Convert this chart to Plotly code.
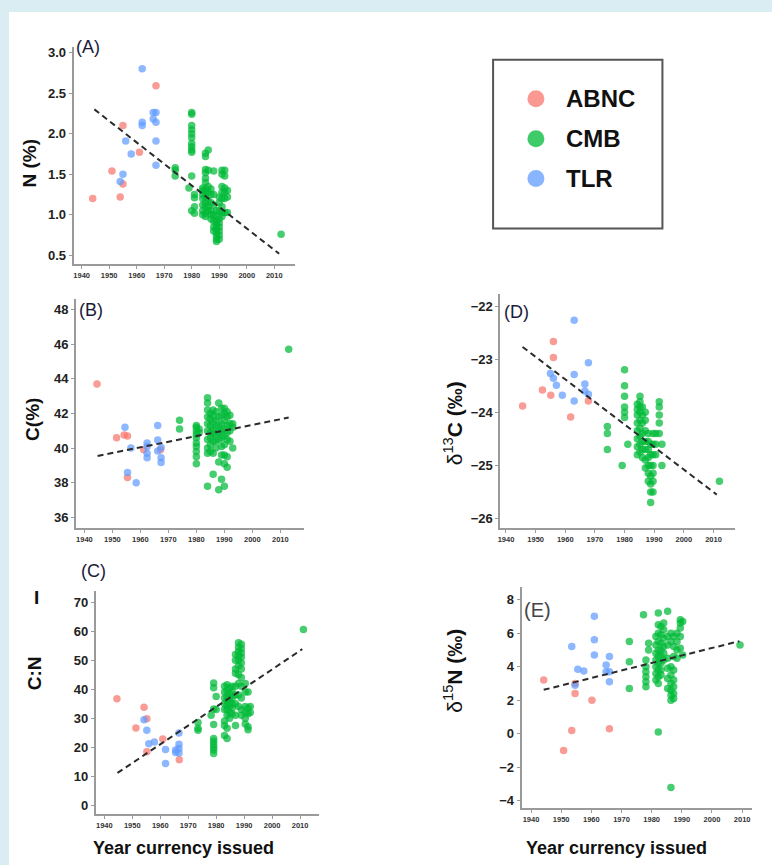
import plotly.graph_objects as go

W, H = 772, 865

# ---------------- data ----------------
groups = ["ABNC", "CMB", "TLR"]
colors = {"ABNC": "#F8766D", "CMB": "#00BA38", "TLR": "#619CFF"}
x_ticks = [1940, 1950, 1960, 1970, 1980, 1990, 2000, 2010]

# Panel A : N (%)
abnc_year_A = [1944, 1951, 1954, 1955, 1955, 1961, 1967]
abnc_N = [1.20, 1.54, 1.22, 1.38, 2.10, 1.77, 2.59]
tlr_year_A = [1954, 1955, 1956, 1958, 1962, 1962, 1962, 1966, 1967, 1966, 1967, 1967, 1967]
tlr_N = [1.41, 1.50, 1.91, 1.75, 2.80, 2.14, 2.10, 2.26, 2.26, 2.18, 2.14, 1.91, 1.61]
cmb_N = {
    1974: [1.58, 1.55, 1.48],
    1979: [1.33],
    1980: [2.26, 2.24, 2.10, 2.05, 2.00, 1.95, 1.88, 1.84, 1.80, 1.77, 1.48, 1.05],
    1981: [1.25, 1.21, 1.10, 1.02],
    1984: [1.33, 1.30, 1.25, 1.20, 1.12, 1.05, 1.00],
    1985: [1.76, 1.72, 1.56, 1.52, 1.45, 1.40, 1.32, 1.28, 1.22, 1.15, 1.10, 1.02, 0.98],
    1986: [1.80, 1.55, 1.35, 1.28, 1.18, 1.10, 1.05],
    1987: [1.32, 1.25, 1.15, 1.05, 1.00, 0.95],
    1988: [1.54, 1.25, 1.12, 1.00, 0.92, 0.85, 0.80],
    1989: [1.05, 0.98, 0.92, 0.88, 0.83, 0.78, 0.74, 0.70, 0.67],
    1990: [1.22, 1.15, 1.05, 0.95, 0.90, 0.85, 0.80, 0.75, 0.70],
    1991: [1.55, 1.50, 1.35, 1.28, 1.20, 1.10, 1.03, 0.98],
    1992: [1.55, 1.48, 1.33, 1.28, 1.20, 1.03],
    1993: [1.30, 1.22, 1.03],
    2012.5: [0.76],
}
trend_year_A = [1944.6, 2011.8]
trend_N = [2.30, 0.52]

# Panel B : C (%)
abnc_year_B = [1944.5, 1951.5, 1954.2, 1955.4, 1955.4, 1961.2, 1967.2]
abnc_C = [43.7, 40.6, 40.75, 40.7, 38.3, 39.9, 39.9]
tlr_year_B = [1954.5, 1955.4, 1956.6, 1958.5, 1962.4, 1962.4, 1962.4, 1962.4, 1966.2, 1966.2, 1966.2, 1967.4, 1967.4, 1967.4]
tlr_C = [41.2, 38.6, 40.0, 38.0, 40.3, 40.1, 39.7, 39.45, 41.3, 40.47, 39.84, 40.03, 39.45, 39.17]
cmb_C = {
    1974: [41.6, 41.1],
    1980: [41.3, 41.2, 41.0, 40.8, 40.6, 40.3, 40.1, 39.8, 39.5, 39.1],
    1981: [41.1, 40.9],
    1984: [42.9, 42.6, 42.2, 41.8, 41.4, 41.0, 40.5, 40.0, 39.7, 37.8],
    1985: [42.0, 41.7, 41.3, 40.9, 40.6, 40.2, 39.8],
    1986: [42.2, 41.9, 41.5, 41.1, 40.8, 40.4, 39.7, 38.5],
    1987: [42.1, 41.6, 41.2, 40.8, 40.4, 40.0],
    1988: [42.6, 41.8, 41.3, 40.9, 40.5, 39.2, 37.6],
    1989: [42.3, 41.9, 41.4, 41.0, 40.6, 40.1, 39.6, 38.2],
    1990: [42.3, 42.0, 41.6, 41.1, 40.7, 40.2, 39.6, 39.1, 37.8],
    1991: [42.1, 41.8, 41.3, 40.9, 40.5, 39.5, 38.9],
    1992: [41.9, 41.4, 41.0, 40.4],
    1993: [41.4, 41.2, 40.0],
    2013: [45.7],
}
trend_year_B = [1944.7, 2013.0]
trend_C = [39.55, 41.76]

# Panel C : C:N
abnc_year_CN = [1944.5, 1951.3, 1954.2, 1955.2, 1955.2, 1960.9, 1966.8]
abnc_CN = [36.7, 26.6, 33.8, 29.8, 18.4, 22.8, 15.7]
tlr_year_CN = [1954.2, 1955.2, 1955.9, 1957.9, 1961.9, 1961.9, 1965.5, 1965.5, 1966.7, 1966.7, 1966.7, 1966.7]
tlr_CN = [29.5, 25.8, 21.2, 21.8, 19.2, 14.4, 19.0, 18.2, 24.9, 21.0, 19.5, 18.0]
cmb_CN = {
    1973.5: [28.5, 26.5, 25.8],
    1978.2: [31.0],
    1979.1: [42.1, 40.5, 33.2, 27.8, 23.0, 22.0, 21.0, 20.0, 19.0, 17.8],
    1980.0: [37.5, 33.0],
    1983.0: [41.0, 39.0, 37.0, 35.0, 33.0, 29.0, 27.5, 24.0],
    1983.9: [41.5, 39.5, 37.5, 36.0, 34.5, 33.0, 31.0, 26.5, 23.0],
    1984.8: [40.5, 38.5, 37.0, 35.5, 34.0, 32.0, 30.0],
    1985.7: [41.0, 39.0, 37.0, 35.0, 33.5, 31.5],
    1986.9: [52.0, 50.0, 47.0, 45.5, 41.0, 38.0, 35.0, 31.0, 27.5],
    1988.0: [56.0, 54.5, 53.0, 51.5, 50.0, 48.0, 45.0, 42.0, 38.0, 34.0],
    1989.0: [55.5, 54.0, 52.5, 51.0, 49.0, 47.0, 44.0, 41.0, 37.0, 33.0, 31.0],
    1990.4: [42.0, 39.0, 34.0, 32.0, 30.0, 28.0],
    1991.4: [39.0, 33.5, 31.5, 27.0, 26.0],
    1992.2: [34.0, 32.0],
    2011.2: [60.6],
}
trend_year_CN = [1944.7, 2010.8]
trend_CN = [11.1, 53.8]

# Panel D : d13C
abnc_year_D = [1945.6, 1952.3, 1955.1, 1956.0, 1956.0, 1961.8, 1967.8]
abnc_d13C = [-23.88, -23.58, -23.68, -22.67, -22.97, -24.09, -23.79]
tlr_year_D = [1955.0, 1956.0, 1957.0, 1959.0, 1963.0, 1963.0, 1963.0, 1966.6, 1966.6, 1967.8, 1967.8]
tlr_d13C = [-23.27, -23.36, -23.49, -23.68, -22.27, -23.29, -23.79, -23.47, -23.60, -23.07, -23.66]
cmb_d13C = {
    1974.2: [-24.27, -24.40, -24.70],
    1979.2: [-25.00],
    1980.0: [-23.20, -23.50, -23.70, -23.90, -24.00, -24.10],
    1981.1: [-24.60],
    1984.3: [-23.85, -23.95, -24.05, -24.20, -24.35, -24.50, -24.65, -24.80],
    1985.2: [-23.70, -23.80, -23.90, -24.00, -24.15, -24.30, -24.45, -24.60, -24.75],
    1986.0: [-23.90, -24.05, -24.20, -24.40, -24.55, -24.70, -24.85],
    1987.0: [-24.00, -24.15, -24.35, -24.55, -24.70, -24.90, -25.05],
    1988.0: [-24.40, -24.55, -24.70, -24.85, -25.00, -25.15, -25.30],
    1988.8: [-24.60, -24.80, -25.00, -25.20, -25.35, -25.50, -25.70],
    1989.6: [-24.40, -24.60, -24.80, -25.00, -25.15, -25.30, -25.50],
    1990.5: [-24.40, -24.60, -24.80],
    1991.7: [-23.80, -23.90, -24.05, -24.20, -24.40],
    1992.6: [-24.60, -25.00],
    2012.0: [-25.30],
}
trend_year_D = [1945.6, 2011.1]
trend_d13C = [-22.77, -25.55]

# Panel E : d15N
abnc_year_E = [1944.2, 1950.8, 1953.5, 1954.6, 1954.6, 1960.2, 1966.0]
abnc_d15N = [3.2, -1.0, 0.2, 2.4, 3.0, 2.0, 0.3]
tlr_year_E = [1953.5, 1954.6, 1955.5, 1957.5, 1961.0, 1961.0, 1961.0, 1964.9, 1964.9, 1966.0, 1966.0, 1966.0]
tlr_d15N = [5.2, 2.9, 3.85, 3.75, 7.0, 5.6, 4.7, 4.1, 3.7, 4.6, 3.7, 3.1]
cmb_d15N = {
    1972.6: [5.5, 4.3, 2.7],
    1977.3: [7.1],
    1978.1: [4.4, 4.0, 3.7, 3.4, 3.1, 2.8],
    1979.0: [5.4, 5.0],
    1981.4: [5.8, 5.3, 4.8, 4.4, 4.0, 3.6, 3.2],
    1982.2: [7.2, 6.5, 6.0, 5.5, 5.0, 4.6, 4.2, 3.8, 3.4, 3.0, 0.1],
    1983.1: [6.4, 5.9, 5.4, 5.0, 4.6, 4.2, 3.8, 3.5],
    1984.0: [6.6, 6.2, 5.7, 5.2, 4.8, 4.4],
    1985.3: [7.3, 5.8, 5.3, 4.5, 3.9, 3.3, 2.7],
    1986.4: [6.0, 5.5, 4.0, 3.5, 3.0, 2.6, 2.3, 2.0, -3.2],
    1987.3: [5.8, 5.2, 4.6, 3.8, 3.2, 2.8, 2.4, 2.1],
    1988.4: [6.0, 5.5, 5.0, 4.5],
    1989.5: [6.8, 6.6, 6.3, 5.8, 5.1],
    1990.3: [6.7, 4.7],
    2009.3: [5.3],
}
trend_year_E = [1944.2, 2009.1]
trend_d15N = [2.62, 5.52]


def expand(d):
    xs, ys = [], []
    for yr, vals in d.items():
        for v in vals:
            xs.append(yr)
            ys.append(v)
    return xs, ys


panels = [
    dict(ab=(abnc_year_A, abnc_N), tl=(tlr_year_A, tlr_N), cm=cmb_N, tr=(trend_year_A, trend_N),
         xpx=(71, 293), ypx=(45, 262.7), xr=[1937.1, 2017.5], yr=[0.393, 3.07],
         yt=[0.5, 1.0, 1.5, 2.0, 2.5, 3.0], fmt=".1f"),
    dict(ab=(abnc_year_B, abnc_C), tl=(tlr_year_B, tlr_C), cm=cmb_C, tr=(trend_year_B, trend_C),
         xpx=(73.3, 301.7), ypx=(298, 527.3), xr=[1937.0, 2018.3], yr=[35.39, 48.58],
         yt=[36, 38, 40, 42, 44, 46, 48], fmt="d"),
    dict(ab=(abnc_year_CN, abnc_CN), tl=(tlr_year_CN, tlr_CN), cm=cmb_CN, tr=(trend_year_CN, trend_CN),
         xpx=(93.3, 317.3), ypx=(590, 814), xr=[1937.0, 2016.8], yr=[-3.1, 74.0],
         yt=[0, 10, 20, 30, 40, 50, 60, 70], fmt="d"),
    dict(ab=(abnc_year_D, abnc_d13C), tl=(tlr_year_D, tlr_d13C), cm=cmb_d13C, tr=(trend_year_D, trend_d13C),
         xpx=(499.3, 735), ypx=(293, 527.3), xr=[1938.1, 2017.3], yr=[-26.18, -21.78],
         yt=[-26, -25, -24, -23, -22], fmt="d"),
    dict(ab=(abnc_year_E, abnc_d15N), tl=(tlr_year_E, tlr_d15N), cm=cmb_d15N, tr=(trend_year_E, trend_d15N),
         xpx=(520.7, 752), ypx=(586.7, 808.3), xr=[1936.9, 2013.3], yr=[-4.45, 8.73],
         yt=[-4, -2, 0, 2, 4, 6, 8], fmt="d"),
]

FONT = "Liberation Sans, Arial, sans-serif"
fig = go.Figure()
layout = {}
AXC = "#9a9a9a"
MS = 7.5
OP = 0.72

for i, p in enumerate(panels, start=1):
    sfx = "" if i == 1 else str(i)
    xa, ya = "x" + sfx, "y" + sfx
    cx, cy = expand(p["cm"])
    for g, (xs, ys) in (("ABNC", p["ab"]), ("CMB", (cx, cy)), ("TLR", p["tl"])):
        fig.add_trace(go.Scatter(x=xs, y=ys, mode="markers", xaxis=xa, yaxis=ya, showlegend=False,
                                 marker=dict(color=colors[g], size=MS, opacity=OP, line=dict(width=0)),
                                 hoverinfo="skip"))
    fig.add_trace(go.Scatter(x=p["tr"][0], y=p["tr"][1], mode="lines", xaxis=xa, yaxis=ya,
                             showlegend=False, line=dict(color="#2b2b2b", width=2, dash="6px,4px"),
                             hoverinfo="skip"))
    x0, x1 = p["xpx"]
    y0, y1 = p["ypx"]
    layout["xaxis" + sfx] = dict(
        domain=[x0 / W, x1 / W], range=p["xr"], anchor=ya, showline=True, linecolor=AXC, linewidth=2,
        ticks="outside", ticklen=3, tickcolor=AXC, tickwidth=1, showgrid=False, zeroline=False,
        tickvals=x_ticks, tickfont=dict(family=FONT, size=7.5, color="#333", weight="bold"))
    layout["yaxis" + sfx] = dict(
        domain=[1 - y1 / H, 1 - y0 / H], range=p["yr"], anchor=xa, showline=True, linecolor=AXC,
        linewidth=2, ticks="outside", ticklen=3, tickcolor=AXC, tickwidth=1, showgrid=False,
        zeroline=False, tickvals=p["yt"], tickformat=p["fmt"],
        tickfont=dict(family=FONT, size=13, color="#222", weight="bold"))

# legend drawn as its own small axis
leg_y = [0, 1, 2]
fig.add_trace(go.Scatter(x=[0, 0, 0], y=leg_y, mode="markers", xaxis="x6", yaxis="y6", showlegend=False,
                         marker=dict(color=[colors[g] for g in groups], size=17, opacity=0.75),
                         hoverinfo="skip"))
layout["xaxis6"] = dict(domain=[520 / W, 550 / W], range=[-1, 1], visible=False, fixedrange=True)
layout["yaxis6"] = dict(domain=[1 - 197 / H, 1 - 77 / H], range=[2.5, -0.5], visible=False, fixedrange=True)


def ann(text, x, y, size, color="#111", angle=0, xanchor="center", weight="normal"):
    return dict(text=text, x=x / W, y=1 - y / H, xref="paper", yref="paper", showarrow=False,
                xanchor=xanchor, yanchor="middle", textangle=angle,
                font=dict(family=FONT, size=size, color=color, weight=weight))


anns = [
    ann("(A)", 85, 45, 18, "#1a1a3a"),
    ann("(B)", 88, 309, 18, "#1a1a3a"),
    ann("(C)", 91, 570, 18, "#1a1a3a"),
    ann("(D)", 516, 311, 18, "#1a1a3a"),
    ann("(E)", 537, 609, 20, "#444"),
    ann("N (%)", 27, 161, 19, angle=-90, weight="bold"),
    ann("C(%)", 29, 418, 19, angle=-90, weight="bold"),
    ann("C:N", 32, 673, 19, angle=-90, weight="bold"),
    ann("I", 34, 597, 19, weight="bold"),
    ann("δ<sup>13</sup><b>C (‰)</b>", 452, 422, 21, angle=-90),
    ann("δ<sup>15</sup><b>N (‰)</b>", 452, 670, 21, angle=-90),
    ann("Year currency issued", 181, 848, 18, weight="bold"),
    ann("Year currency issued", 616, 848, 18, weight="bold"),
]
for g, yy in zip(groups, [97, 137, 177]):
    anns.append(ann(g, 563, yy, 24, xanchor="left", weight="bold"))

shapes = [
    dict(type="rect", xref="paper", yref="paper", x0=6 / W, x1=1, y0=0, y1=1 - 10 / H,
         fillcolor="white", line=dict(width=0), layer="below"),
    dict(type="rect", xref="paper", yref="paper", x0=492 / W, x1=662 / W, y0=1 - 227 / H, y1=1 - 58 / H,
         fillcolor="rgba(0,0,0,0)", line=dict(color="#555", width=2)),
]

fig.update_layout(
    width=W, height=H, margin=dict(l=0, r=0, t=0, b=0),
    paper_bgcolor="#d9edf2", plot_bgcolor="rgba(0,0,0,0)",
    annotations=anns, shapes=shapes, showlegend=False, **layout)

fig.write_html("out.html", config={"displayModeBar": False},
               post_script="document.body.style.margin='0';document.body.style.overflow='hidden';")
